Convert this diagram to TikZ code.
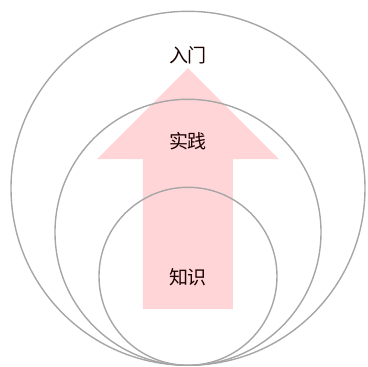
\documentclass[tikz,border=0pt]{standalone}
\usepackage{fontspec}
\newfontfamily\cjk{Noto Sans CJK SC}
\usetikzlibrary{positioning}
\definecolor{ringgray}{HTML}{A6A6A6}
\definecolor{arrowpink}{HTML}{FFD5D8}
\tikzset{
  ring/.style = {
    draw=ringgray,
    line width=1.4pt
  },
  label/.style = {
    font=\cjk\fontsize{19pt}{19pt}\selectfont,
    text=black!90!red,
    inner sep=0pt
  },
}

\begin{document}
\begin{tikzpicture}[x=1pt,y=-1pt]
  \useasboundingbox (0,0) rectangle (368,367);

  % big arrow
  \fill [arrowpink] (143,309) -- (143,159) -- (97,159) -- (188,68)
    -- (279,159) -- (233,159) -- (233,309) -- cycle;

  % rings, all touching at the bottom
  \coordinate (bottom) at (188,366);
  \node [ring,circle,minimum size=354pt,inner sep=0pt,anchor=south] (outer) at (bottom) {};
  \node [ring,circle,minimum size=266pt,inner sep=0pt,anchor=south] (middle) at (bottom) {};
  \node [ring,circle,minimum size=178pt,inner sep=0pt,anchor=south] (inner) at (bottom) {};

  \node [label] (entry) at (188,55) {入门};
  \node [label] (practice) at (188,141) {实践};
  \node [label] (knowledge) at (188,277) {知识};
\end{tikzpicture}
\end{document}
